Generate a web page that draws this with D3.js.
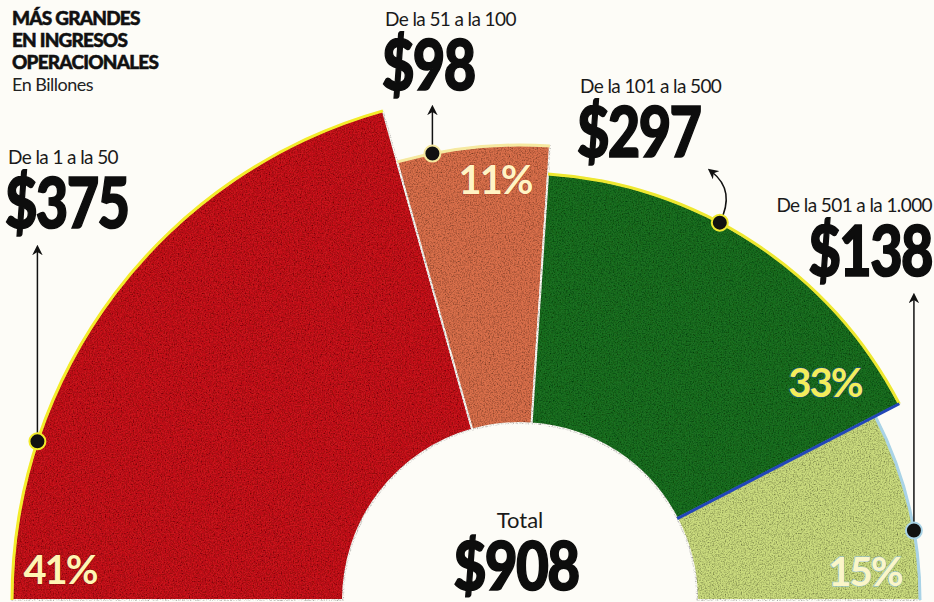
<!DOCTYPE html>
<html>
<head>
<meta charset="utf-8">
<script src="https://cdn.jsdelivr.net/npm/d3@7"></script>
<style>
  body { margin: 0; background: #fdfcf7; }
  svg { display: block; }
</style>
</head>
<body>
<div id="chart"></div>
<script>
// data
var ranges = ["De la 1 a la 50", "De la 51 a la 100", "De la 101 a la 500", "De la 501 a la 1.000"]
var ingresos = [375, 98, 297, 138]
var titleLines = ["MÁS GRANDES", "EN INGRESOS", "OPERACIONALES"]
var subtitle = "En Billones"
var totalLabel = "Total"

// look of each slice
var colors = ["#c8121b", "#da6f4b", "#1f7022", "#cbdc7e"]
var edgeColors = ["#f3ec2a", "#f6e9a0", "#eee830", "#a9d3e6"]
var outerR = [508, 455, 427, 400]
var pctColors = ["#fff4b4", "#fff4c4", "#f3ee5a", "#fbf6c8"]
var pctShadow = ["#8a0c10", "#b24a30", "#1f4fb0", "#8fc0d8"]

var width = 934, height = 602
var cx = 520, cy = 600, innerR = 177
var total = d3.sum(ingresos)
var bigFont = "Lato, 'Open Sans', sans-serif"

var svg = d3.select("#chart")
  .append("svg")
    .attr("width", width)
    .attr("height", height)

var defs = svg.append("defs")

// arrow head
defs.append("marker")
    .attr("id", "arrow")
    .attr("viewBox", "0 0 10 10")
    .attr("refX", 5).attr("refY", 5)
    .attr("markerWidth", 7).attr("markerHeight", 7)
    .attr("orient", "auto-start-reverse")
  .append("path")
    .attr("d", "M0,0 L10,5 L0,10 L3,5 Z")
    .attr("fill", "#111")

// printed paper grain
var grain = defs.append("filter").attr("id", "grain")
grain.append("feTurbulence")
  .attr("type", "fractalNoise").attr("baseFrequency", 0.75)
  .attr("numOctaves", 2).attr("seed", 4).attr("result", "noise")
grain.append("feColorMatrix")
  .attr("in", "noise").attr("type", "matrix")
  .attr("values", "0 0 0 0 0  0 0 0 0 0  0 0 0 0 0  1.5 0 0 0 -0.6")
  .attr("result", "specks")
grain.append("feComposite")
  .attr("in", "specks").attr("in2", "SourceGraphic")
  .attr("operator", "in").attr("result", "clipped")
var merge = grain.append("feMerge")
merge.append("feMergeNode").attr("in", "SourceGraphic")
merge.append("feMergeNode").attr("in", "clipped")

var g = svg.append("g")
  .attr("transform", "translate(" + cx + "," + cy + ")")

var pie = d3.pie()
  .sort(null)
  .startAngle(-Math.PI / 2)
  .endAngle(Math.PI / 2)

var arcs = pie(ingresos)

var arc = d3.arc()
  .innerRadius(innerR)
  .outerRadius(function(d){ return outerR[d.index] })

g.append("g")
  .attr("filter", "url(#grain)")
  .selectAll("path.slice")
  .data(arcs)
  .enter()
  .append("path")
    .attr("class", "slice")
    .attr("d", arc)
    .style("fill", function(d){ return colors[d.index] })
    .style("stroke", "#fdfcf7")
    .style("stroke-width", 2)

// coloured rim on the outer edge
var rim = d3.arc()
  .innerRadius(function(d){ return outerR[d.index] - 1.5 })
  .outerRadius(function(d){ return outerR[d.index] + 1.5 })

g.selectAll("path.rim")
  .data(arcs)
  .enter()
  .append("path")
    .attr("class", "rim")
    .attr("d", rim)
    .style("fill", function(d){ return edgeColors[d.index] })

// blue edge between dark and light green
var cut = arcs[3].startAngle
g.append("line")
  .attr("x1", innerR * Math.sin(cut)).attr("y1", -innerR * Math.cos(cut))
  .attr("x2", outerR[2] * Math.sin(cut)).attr("y2", -outerR[2] * Math.cos(cut))
  .style("stroke", "#2246b8")
  .style("stroke-width", 3)

// percentages
var pctPos = [[461, -86.3], [421, -3.4], [374, 54.6], [346, 85.4]]
function polar(r, deg){
  var a = deg * Math.PI / 180
  return [r * Math.sin(a), -r * Math.cos(a)]
}

g.selectAll("text.pct")
  .data(arcs)
  .enter()
  .append("text")
    .attr("class", "pct")
    .attr("x", function(d){ return polar(pctPos[d.index][0], pctPos[d.index][1])[0] })
    .attr("y", function(d){ return polar(pctPos[d.index][0], pctPos[d.index][1])[1] + 14 })
    .attr("text-anchor", "middle")
    .style("font-family", "Lato, 'Open Sans', sans-serif")
    .style("font-weight", "700")
    .style("font-size", "40px")
    .style("letter-spacing", "-2px")
    .style("fill", function(d){ return pctColors[d.index] })
    .style("stroke", function(d){ return pctShadow[d.index] })
    .style("stroke-width", 1)
    .style("paint-order", "stroke")
    .text(function(d){ return Math.round(d.value / total * 100) + "%" })

// annotation dots and arrows
var dotDeg = [-71.8, -11.1, 27.9, 80]
var arrowTo = [[36, 250], [433, 110], [712, 172], [916, 298]]

arcs.forEach(function(d, i){
  var p = polar(outerR[i], dotDeg[i])
  var tx = arrowTo[i][0] - cx, ty = arrowTo[i][1] - cy
  var path
  if (i == 2) {
    path = "M" + p[0] + "," + p[1] + " Q" + (p[0] + 16) + "," + (p[1] - 32) + " " + tx + "," + ty
  } else {
    path = "M" + p[0] + "," + p[1] + " L" + p[0] + "," + ty
  }
  g.append("path")
    .attr("d", path)
    .style("fill", "none")
    .style("stroke", "#111")
    .style("stroke-width", 1.5)
    .attr("marker-end", "url(#arrow)")
  g.append("circle")
    .attr("cx", p[0]).attr("cy", p[1])
    .attr("r", 8)
    .style("fill", "#111")
    .style("stroke", edgeColors[i])
    .style("stroke-width", 2)
})

// range labels and amounts
var labelPos = [[8, 164, "start"], [385, 26, "start"], [580, 93, "start"], [932, 212, "end"]]

svg.selectAll("text.range")
  .data(ranges)
  .enter()
  .append("text")
    .attr("class", "range")
    .attr("x", function(d, i){ return labelPos[i][0] })
    .attr("y", function(d, i){ return labelPos[i][1] })
    .attr("text-anchor", function(d, i){ return labelPos[i][2] })
    .style("font-family", "Lato, 'Open Sans', sans-serif")
    .style("font-size", "19px")
    .style("letter-spacing", "-0.6px")
    .style("fill", "#1a1a1a")
    .text(function(d){ return d })

// condensed look: squeeze the heavy numbers horizontally
svg.selectAll("text.amount")
  .data(ingresos)
  .enter()
  .append("text")
    .attr("class", "amount")
    .attr("transform", function(d, i){
      var x = labelPos[i][0] - (labelPos[i][2] == "start" ? 3 : 0)
      return "translate(" + x + "," + (labelPos[i][1] + 64) + ") scale(0.8,1)"
    })
    .attr("text-anchor", function(d, i){ return labelPos[i][2] })
    .style("font-family", bigFont)
    .style("font-weight", "900")
    .style("font-size", "70px")
    .style("letter-spacing", "-2px")
    .style("fill", "#0d0d0d")
    .style("stroke", "#0d0d0d")
    .style("stroke-width", 1.6)
    .text(function(d){ return "$" + d })

// title block
svg.selectAll("text.title")
  .data(titleLines)
  .enter()
  .append("text")
    .attr("class", "title")
    .attr("x", 12)
    .attr("y", function(d, i){ return 25 + i * 22 })
    .style("font-family", "Lato, 'Open Sans', sans-serif")
    .style("font-weight", "900")
    .style("font-size", "19px")
    .style("letter-spacing", "-0.8px")
    .style("fill", "#111")
    .style("stroke", "#111")
    .style("stroke-width", 0.5)
    .text(function(d){ return d })

svg.append("text")
  .attr("x", 12)
  .attr("y", 25 + titleLines.length * 22)
  .style("font-family", "Lato, 'Open Sans', sans-serif")
  .style("font-size", "18px")
  .style("letter-spacing", "-0.5px")
  .style("fill", "#222")
  .text(subtitle)

// total in the hole
g.append("text")
  .attr("x", 0)
  .attr("y", -72)
  .attr("text-anchor", "middle")
  .style("font-family", "Lato, 'Open Sans', sans-serif")
  .style("font-size", "22px")
  .style("fill", "#1a1a1a")
  .text(totalLabel)

g.append("text")
  .attr("transform", "translate(-4,-10) scale(0.86,1)")
  .attr("text-anchor", "middle")
  .style("font-family", bigFont)
  .style("font-weight", "900")
  .style("font-size", "66px")
  .style("letter-spacing", "-2px")
  .style("fill", "#0d0d0d")
  .style("stroke", "#0d0d0d")
  .style("stroke-width", 1.6)
  .text("$" + total)
</script>
</body>
</html>
